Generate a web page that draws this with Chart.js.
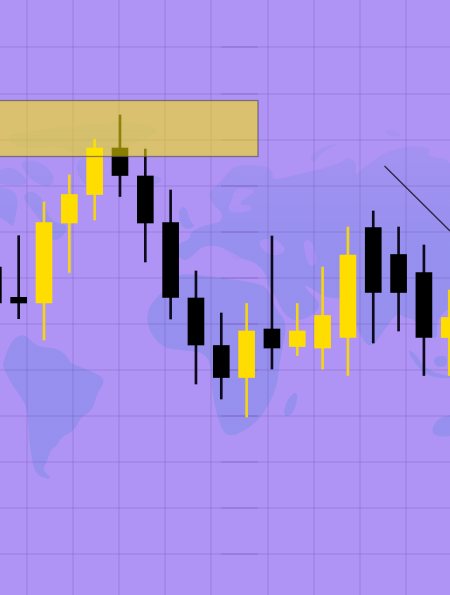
<!DOCTYPE html>
<html>
<head>
<meta charset="utf-8">
<script src="https://cdn.jsdelivr.net/npm/chart.js@4"></script>
<style>
	html, body { margin: 0; padding: 0; background: #af94f5; overflow: hidden; }
	canvas { display: block; }
</style>
</head>
<body>
<canvas id="chart" width="450" height="595"></canvas>
<script>
var candleIndex = [-1, 0, 1, 2, 3, 4, 5, 6, 7, 8, 9, 10, 11, 12, 13, 14, 15, 16, 17];
var opens  = [328, 297.7, 292, 372, 400.5, 447, 419, 372.5, 297, 249.5, 217.5, 266, 248.5, 247, 257.5, 367.5, 340.5, 322.5, 257.5];
var closes = [292, 292, 372.5, 400.5, 447, 419.5, 372, 297.5, 250, 217.5, 264, 247, 264, 279.5, 340, 302.5, 302.5, 257.5, 277.5];
var highs  = [340, 359.3, 393, 420, 455.5, 480, 446, 405, 324, 282, 291.5, 359, 291.5, 328, 368, 384, 368, 350, 305];
var lows   = [280, 276.3, 255, 322.5, 375, 398.5, 333, 276, 211, 196, 178, 226, 239.5, 226, 219.5, 252, 264, 219.5, 219.5];

// background grid, it is two tiles so the rows double up where they overlap
var gridColumns = [27, 73, 119, 165, 211, 268, 314, 360, 406];
var gridRows = [547.7, 501.3, 455, 409, 363, 317, 271, 225, 179, 133, 87, 41];
var gridOverlap = [221, 258];

// drawn objects on the chart
var zoneColumns = [-2, 258];
var zonePrices = [494.5, 438.5];
var trendColumns = [384.5, 450];
var trendPrices = [429, 364];

// world map behind the chart, as [column, distance from top]
var mapShapes = [
	// south america
	[[3,363],[10,343],[20,334],[28,337],[37,347],[57,348],[68,357],[70,363],[83,368],[100,375],[105,382],[97,393],[93,410],[80,418],[75,430],[60,438],[58,445],[50,450],[47,462],[42,470],[53,479],[42,478],[35,472],[32,460],[29,440],[28,417],[25,402],[13,387],[3,367]],
	// north america, arctic and greenland
	[[-6,186],[12,189],[18,197],[17,210],[13,228],[8,222],[-6,214]],
	[[-6,172],[10,166],[20,172],[30,183],[16,186],[-6,183]],
	[[20,160],[40,161],[56,176],[50,188],[35,183],[24,172]],
	[[22,195],[33,190],[44,200],[50,222],[70,225],[60,240],[50,240],[44,225],[28,205]],
	[[78,158],[104,158],[100,170],[88,187],[80,180],[76,168]],
	[[3,135],[40,130],[75,125],[140,122],[165,130],[120,150],[104,157],[78,157],[60,145],[20,150]],
	[[147,176],[155,175],[164,180],[155,185],[148,183]],
	// uk
	[[178,210],[186,205],[190,222],[196,226],[186,230],[180,224]],
	// eurasia
	[[207,193],[220,183],[230,170],[238,165],[262,165],[273,170],[272,180],[288,177],[308,172],[325,168],[342,162],[348,157],[357,162],[355,177],[362,168],[375,160],[385,152],[412,145],[432,148],[425,157],[460,160],[460,300],[436,318],[438,340],[428,335],[420,325],[412,318],[404,318],[398,312],[384,330],[372,348],[362,340],[350,310],[345,298],[325,298],[310,287],[303,285],[310,293],[322,305],[310,318],[288,322],[272,290],[268,285],[265,272],[255,262],[240,258],[235,262],[226,247],[205,245],[196,252],[186,262],[176,255],[178,243],[190,240],[190,232],[205,225],[222,222],[222,212],[215,207]],
	// africa and madagascar
	[[173,280],[180,273],[217,277],[257,283],[268,288],[276,310],[288,323],[280,357],[277,390],[258,423],[227,440],[217,417],[212,390],[210,353],[180,350],[163,348],[148,330],[147,310],[157,297]],
	[[283,413],[288,398],[298,390],[296,408],[288,418]],
	// novaya zemlya, svalbard
	[[310,155],[325,146],[342,143],[325,150],[316,160],[311,162]],
	[[383,132],[392,129],[403,136],[392,137]],
	// south east asia and australia
	[[407,350],[414,352],[428,372],[460,378],[432,378],[418,368]],
	[[433,357],[447,355],[447,367],[435,367]],
	[[460,413],[436,418],[430,437],[460,436]]
];
// seas painted back over the land
var mapSeas = [
	[[258,240],[275,238],[288,250],[275,257],[262,250]],
	[[303,240],[312,240],[318,262],[310,268],[305,255]],
	[[235,187],[258,190],[245,198],[238,205],[252,205],[252,212],[226,213],[232,200]],
	[[190,262],[225,247],[240,258],[262,268],[262,276],[225,273],[195,268]]
];

// rounds the corners so the coasts do not look cut with a ruler
function trace(ctx, gx, y, shape) {
	var pts = shape.map(function(p) { return [gx.getPixelForValue(p[0]), y.getPixelForValue(595 - p[1])]; });
	var last = pts[pts.length - 1];
	ctx.moveTo((last[0] + pts[0][0]) / 2, (last[1] + pts[0][1]) / 2);
	pts.forEach(function(p, i) {
		var n = pts[(i + 1) % pts.length];
		ctx.quadraticCurveTo(p[0], p[1], (p[0] + n[0]) / 2, (p[1] + n[1]) / 2);
	});
	ctx.closePath();
}

var backdrop = {
	id: 'backdrop',
	beforeDraw: function(c) {
		var ctx = c.ctx, gx = c.scales.gridX, y = c.scales.y;
		// land fades out toward the top of the map
		var fade = ctx.createLinearGradient(0, y.getPixelForValue(475), 0, y.getPixelForValue(345));
		fade.addColorStop(0, 'rgba(140,142,235,0.2)');
		fade.addColorStop(1, 'rgba(140,142,235,0.72)');
		ctx.save();
		ctx.filter = 'blur(0.7px)';
		ctx.fillStyle = fade;
		mapShapes.forEach(function(s) {
			ctx.beginPath();
			trace(ctx, gx, y, s);
			ctx.fill();
		});
		ctx.fillStyle = 'rgba(175,148,245,0.8)';
		mapSeas.forEach(function(s) {
			ctx.beginPath();
			trace(ctx, gx, y, s);
			ctx.fill();
		});
		ctx.restore();
	},
	beforeDatasetsDraw: function(c) {
		var ctx = c.ctx, gx = c.scales.gridX, y = c.scales.y;
		ctx.save();
		ctx.strokeStyle = 'rgba(105,70,165,0.2)';
		ctx.lineWidth = 2;
		gridRows.forEach(function(r) {
			var py = Math.round(y.getPixelForValue(r));
			ctx.beginPath();
			ctx.moveTo(gx.getPixelForValue(gridOverlap[0]), py);
			ctx.lineTo(gx.getPixelForValue(gridOverlap[1]), py);
			ctx.stroke();
		});
		ctx.restore();
	},
	afterDatasetsDraw: function(c) {
		var ctx = c.ctx, gx = c.scales.gridX, y = c.scales.y;
		var x0 = gx.getPixelForValue(zoneColumns[0]), x1 = gx.getPixelForValue(zoneColumns[1]);
		var y0 = y.getPixelForValue(zonePrices[0]), y1 = y.getPixelForValue(zonePrices[1]);
		ctx.save();
		ctx.fillStyle = 'rgba(252,230,0,0.55)';
		ctx.strokeStyle = 'rgba(85,75,95,0.65)';
		ctx.lineWidth = 1.3;
		ctx.fillRect(x0, y0, x1 - x0, y1 - y0);
		ctx.strokeRect(x0, y0, x1 - x0, y1 - y0);
		ctx.restore();
	}
};

function candleColors(up, down) {
	return opens.map(function(o, i) { return closes[i] > o ? up : down; });
}

var hiddenAxis = {
	offset: false,
	border: { display: false },
	ticks: { display: false },
	grid: { offset: false, color: 'rgba(105,70,165,0.14)', lineWidth: 2, drawTicks: false }
};

var chart = new Chart(document.getElementById('chart'), {
	type: 'bar',
	data: {
		datasets: [
			{
				label: 'Body',
				order: 1,
				data: candleIndex.map(function(x, i) { return { x: x, y: [opens[i], closes[i]] }; }),
				backgroundColor: candleColors('#ffdd00', '#000000'),
				barThickness: 16,
				grouped: false
			},
			{
				label: 'Wick',
				order: 2,
				data: candleIndex.map(function(x, i) { return { x: x, y: [lows[i], highs[i]] }; }),
				backgroundColor: candleColors('#f3d416', '#0d0a1c'),
				barThickness: 2,
				grouped: false
			},
			{
				type: 'line',
				label: 'Trend',
				order: 0,
				xAxisID: 'gridX',
				data: trendColumns.map(function(x, i) { return { x: x, y: trendPrices[i] }; }),
				borderColor: '#2d2545',
				borderWidth: 1.3,
				pointRadius: 0
			}
		]
	},
	options: {
		responsive: false,
		animation: false,
		layout: { padding: 0 },
		plugins: { legend: { display: false }, tooltip: { enabled: false } },
		scales: {
			x: { type: 'linear', display: false, offset: false, min: -0.737, max: 17.03 },
			gridX: Object.assign({}, hiddenAxis, {
				type: 'linear', position: 'bottom', min: 0, max: 450,
				afterBuildTicks: function(axis) { axis.ticks = gridColumns.map(function(v) { return { value: v }; }); }
			}),
			y: Object.assign({}, hiddenAxis, {
				type: 'linear', min: 0, max: 595,
				afterBuildTicks: function(axis) { axis.ticks = gridRows.map(function(v) { return { value: v }; }); }
			})
		}
	},
	plugins: [backdrop]
});
</script>
</body>
</html>
